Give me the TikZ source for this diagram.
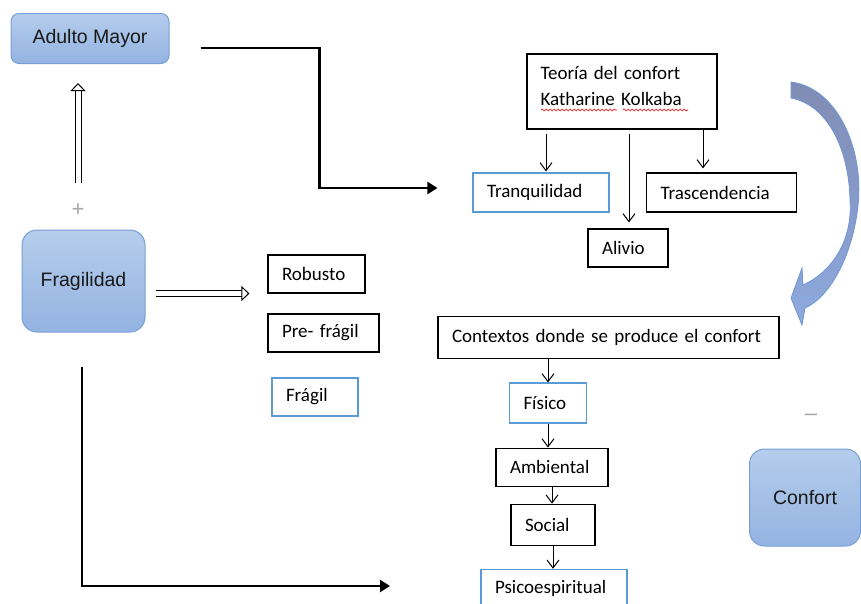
\documentclass[tikz,border=0pt]{standalone}
\usepackage{fontspec}
\setmainfont{Carlito}
\newfontfamily\arialfont{Liberation Sans}
\usetikzlibrary{arrows.meta, positioning, calc, decorations.pathmorphing}
\definecolor{cBlueTop}{RGB}{182,205,236}
\definecolor{cBlueBot}{RGB}{147,179,225}
\definecolor{cBlueLine}{RGB}{118,160,215}
\definecolor{cTxtLine}{RGB}{91,155,213}
\definecolor{cArcTop}{RGB}{128,140,180}
\definecolor{cArcBot}{RGB}{142,170,222}
\definecolor{cArcLine}{RGB}{110,150,215}
\definecolor{cSign}{RGB}{165,165,165}
\newcommand\boxfont{\fontsize{19}{26}\selectfont}
\newcommand\shapefont{\arialfont\fontsize{19.5}{24}\selectfont}
\tikzset{
	bluebox/.style ={rectangle, rounded corners=15pt, draw=cBlueLine, line width=1pt, top color=cBlueTop, bottom color=cBlueBot, font=\shapefont, text=black!90},
	txtbox/.style  ={rectangle, draw=black, line width=1.1pt, minimum height=38pt, inner xsep=14pt, inner ysep=0pt, align=left, text width=#1, font=\boxfont},
	bluetxt/.style ={txtbox=#1, draw=cTxtLine},
	sign/.style    ={text=cSign, font=\arialfont\fontsize{22}{24}\selectfont},
	linearrow/.style={-{Straight Barb[length=8pt, width=12pt]}, line width=1pt},
	elbow/.style   ={-{Triangle[length=10pt, width=12pt]}, line width=2.3pt},
	hollow/.style  ={double, double distance=5pt, line width=1pt, -{Triangle[open, length=8pt, width=15pt]}},
	spellwave/.style={red, line width=0.6pt, decorate, decoration={snake, amplitude=1pt, segment length=4pt}},
	arcarrow/.style={draw=cArcLine, line width=0.8pt, top color=cArcTop, bottom color=cArcBot},
}
\begin{document}
\begin{tikzpicture}[x=1pt, y=-1pt, every node/.style={inner sep=0pt}]
	\useasboundingbox (0,0) rectangle (861,603);
	\clip (0,0) rectangle (861,603);
	% left side
	\node[bluebox, rounded corners=8pt, minimum width=158pt, minimum height=50pt] (adulto) at (90,38.5) {Adulto Mayor};
	\node[sign] (plus) at (78,210) {+};
	\node[bluebox, minimum width=123pt, minimum height=102pt] (fragilidad) at (83.5,281) {Fragilidad\hspace{17pt}};
	\node[txtbox=69pt] (robusto) at (316.5,274) {Robusto};
	\node[txtbox=83pt] (prefragil) at (323.5,333) {Pre- frágil};
	\node[bluetxt=58pt] (fragil) at (315,397) {Frágil};
	% theory
	\node[txtbox=163pt, inner xsep=13.5pt, minimum height=75pt] (teoria) at (622,91.5) {Teoría del confort\\Katharine Kolkaba\\[-15pt]\mbox{}};
	\node[bluetxt=108pt, minimum height=39pt] (tranq) at (541,192.5) {Tranquilidad};
	\node[txtbox=122pt, minimum height=39pt] (trasc) at (721.5,192.5) {Trascendencia};
	\node[txtbox=52pt] (alivio) at (628,248) {Alivio};
	% contexts
	\node[txtbox=313pt, minimum height=42pt] (contextos) at (608.5,337.5) {Contextos donde se produce el confort};
	\node[bluetxt=49pt, minimum height=40pt] (fisico) at (548,403) {Físico};
	\node[txtbox=84pt, below=24pt of fisico, xshift=4pt] (ambiental) {Ambiental};
	\node[txtbox=56pt, minimum height=41pt, below=17pt of ambiental, xshift=1pt] (social) {Social};
	\node[bluetxt=118pt, minimum height=39pt, below=23pt of social, xshift=1pt] (psico) {Psicoespiritual};
	\node[sign] (minus) at (811,417) {–};
	\node[bluebox, minimum width=111pt, minimum height=97pt] (confort) at (805,497.5) {Confort};

	\coordinate (in1) at ($(adulto.east)+(31,9.5)$);
	\coordinate (out1) at ($(tranq.west)+(-35,-4.5)$);
	\coordinate (in2) at ($(fragilidad.south)+(-1.5,34)$);
	\coordinate (out2) at (390,586);

	\draw[hollow] ($(plus.center)+(0,-27)$) -- ($(plus.center |- adulto.south)+(0,19)$);
	\draw[hollow] ($(fragilidad.east)+(10,12.5)$) -- ($(robusto.west)+(-18,19.5)$);
	\draw[elbow] (in1) -- ++(119,0) |- (out1);
	\draw[elbow] (in2) |- (out2);

	\draw[linearrow] ($(teoria.south)+(-76,4)$) -- ($(tranq.north)+(5,-1)$);
	\draw[linearrow] ($(teoria.south)+(7,4)$) -- ($(alivio.north)+(1,-6)$);
	\draw[linearrow] ($(teoria.south)+(81,-1.5)$) -- ($(trasc.north)+(-18.5,-4)$);
	\draw[spellwave] (541,110) -- (617,110);
	\draw[spellwave] (623,110) -- (688,110);

	\draw[linearrow] (contextos.south -| fisico.north) -- (fisico.north);
	\draw[linearrow] (fisico.south) -- (fisico.south |- ambiental.north);
	\draw[linearrow] (ambiental.south) -- (ambiental.south |- social.north);
	\draw[linearrow] (social.south) -- (social.south |- psico.north);

	% curved arrow
	\path[arcarrow] (791,82) .. controls (838,88) and (864,150) .. (858,205)
		.. controls (853,255) and (830,297) .. (805,308) -- (802,325) -- (791,298) -- (802,268) -- (803,285)
		.. controls (832,272) and (853,240) .. (850,200) .. controls (849,150) and (828,105) .. (791,98) -- cycle;
\end{tikzpicture}
\end{document}
